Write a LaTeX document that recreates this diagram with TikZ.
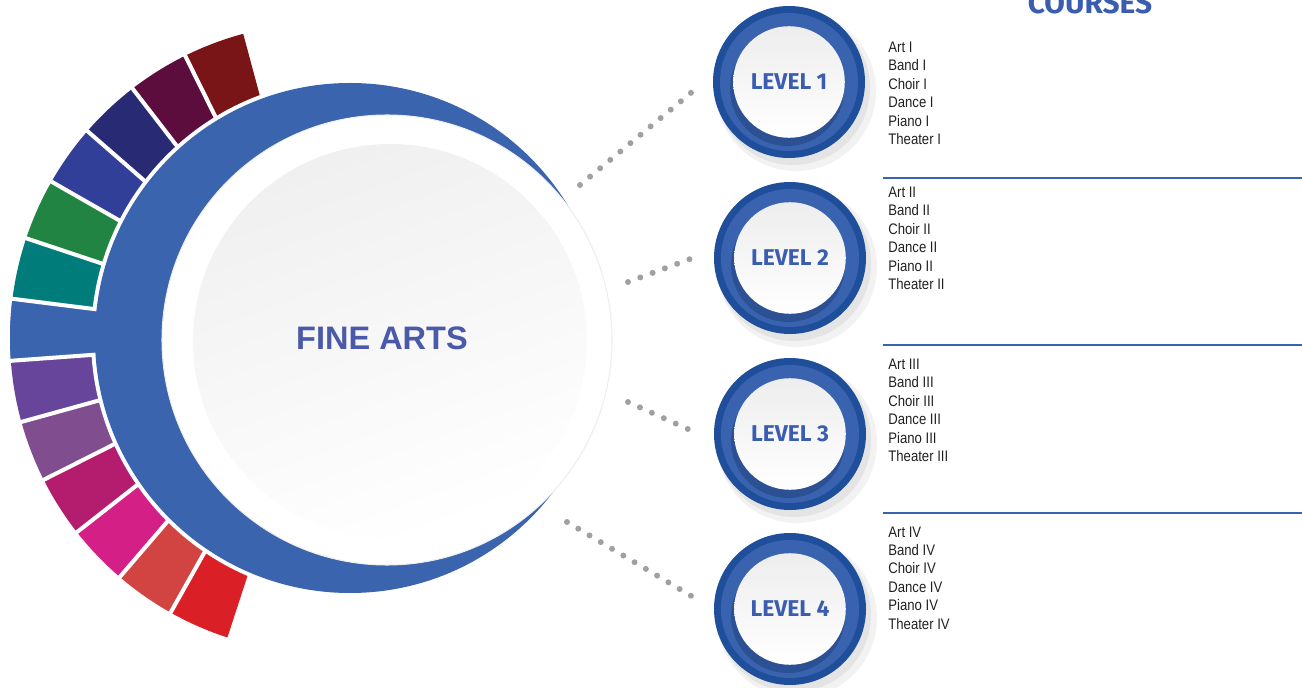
\documentclass[tikz,border=0pt]{standalone}
\usepackage{fontspec}
\setmainfont{Liberation Sans}
\newfontfamily\levelfont{Fira Sans}
\newfontfamily\coursefont[FakeStretch=0.86]{Liberation Sans}
\usepackage{tikz}
\definecolor{ringblue}{HTML}{3A64AE}
\definecolor{lvdark}{HTML}{1F4E9B}
\definecolor{lvlight}{HTML}{3A63AF}
\definecolor{finetext}{HTML}{4A5AA8}
\definecolor{lvtext}{HTML}{3A5DB0}
\definecolor{coursetext}{HTML}{231F20}
\definecolor{ruleblue}{HTML}{3A63B0}
\definecolor{dotgray}{HTML}{A0A0A2}
\definecolor{segdred}{HTML}{7A1517}
\definecolor{segplum}{HTML}{5C0D3D}
\definecolor{segnavy}{HTML}{282A74}
\definecolor{segindigo}{HTML}{323F99}
\definecolor{seggreen}{HTML}{228442}
\definecolor{segteal}{HTML}{007C7A}
\definecolor{segpurple}{HTML}{67459A}
\definecolor{segviolet}{HTML}{804D8F}
\definecolor{segmagenta}{HTML}{B41C6E}
\definecolor{segpink}{HTML}{D41F87}
\definecolor{segcoral}{HTML}{D24441}
\definecolor{segred}{HTML}{DA1F26}
\tikzstyle{segsep}=[white,line width=2.3pt]
\tikzstyle{artstitle}=[font=\bfseries\fontsize{18.5}{20}\selectfont,text=finetext]
\tikzstyle{levelnode}=[circle,minimum size=63.5pt,inner sep=0pt,top color=black!7,bottom color=white,font=\levelfont\bfseries\fontsize{13}{14}\selectfont,text=lvtext]
\tikzstyle{course}=[anchor=base west,inner sep=0pt,font=\coursefont\fontsize{8.7}{10}\selectfont,text=coursetext]
\tikzstyle{headtext}=[anchor=base,inner sep=0pt,font=\levelfont\bfseries\fontsize{17}{18}\selectfont,text=lvtext]
\tikzstyle{rulerline}=[draw=ruleblue,line width=1.1pt]
\tikzstyle{dotline}=[draw=dotgray,line width=3.4pt,line cap=round,dash pattern=on 0pt off 7.46pt]

\begin{document}
\begin{tikzpicture}[x=0.02cm,y=0.02cm]
    \useasboundingbox (0,0) rectangle (1302,687);
    \clip (0,0) rectangle (1302,687);
    \coordinate (fan) at (325,349);
    \coordinate (ring) at (350,349);
    % coloured segments round the ring
    \foreach \col [count=\k from 0] in {segdred,segplum,segnavy,segindigo,seggreen,segteal,ringblue,segpurple,segviolet,segmagenta,segpink,segcoral,segred}{
        \pgfmathsetmacro\aone{105.05+11.3*\k}
        \pgfmathsetmacro\atwo{\aone+11.3}
        \fill[\col] (fan) -- ++(\aone:315) arc[start angle=\aone,end angle=\atwo,radius=315] -- cycle;
    }
    \fill[white] (ring) circle[radius=259];
    \fill[ringblue] (fan) -- ++(172.85:315) arc[start angle=172.85,end angle=184.15,radius=315] -- cycle;
    \foreach \k in {1,...,12}
        \draw[segsep] (fan) -- ++({105.05+11.3*\k}:330);
    \fill[ringblue] (ring) circle[radius=255];
    % main circle
    \fill[white,draw=black!7,line width=0.6pt] (387,347) circle[radius=225];
    \shade[top color=black!6,bottom color=white,shading angle=20] (390,346) circle[radius=197];
    \node[artstitle] (fine) at (382,349) {FINE ARTS};
    % levels
    \foreach \pos/\name in {{(789,605)/1},{(790,429)/2},{(790,253)/3},{(790,78)/4}}{
        \fill[black,opacity=0.05,shift={(7,-9)}] \pos circle[radius=80];
        \fill[black,opacity=0.06,shift={(4,-6)}] \pos circle[radius=77];
        \fill[lvdark] \pos circle[radius=76];
        \fill[lvlight] \pos circle[radius=69];
        \fill[lvdark!70!black,opacity=0.4,shift={(-2,-7)}] \pos circle[radius=57];
        \node[levelnode] (lv\name) at \pos {LEVEL \name};
    }
    \coordinate (d1a) at (580,502); \coordinate (d1b) at (692,595);
    \coordinate (d2a) at (628,405); \coordinate (d2b) at (690,428);
    \coordinate (d3a) at (628,285); \coordinate (d3b) at (690,257);
    \coordinate (d4a) at (567,165); \coordinate (d4b) at (693,90);
    \foreach \n in {1,2,3,4}
        \draw[dotline] (d\n a) -- (d\n b);
    % course lists
    \node[headtext] (courses) at (1090,673) {COURSES};
    \foreach \y in {509,342,174}
        \draw[rulerline] (883,\y) -- (1302,\y);
    \foreach \lvl/\rom/\ybase in {1/I/634.5,2/II/489.5,3/III/317.5,4/IV/150}
        \foreach \course [count=\k] in {Art,Band,Choir,Dance,Piano,Theater}
            \node[course] (crs\lvl\k) at (888,{\ybase-18.4*(\k-1)}) {\course\ \rom};
\end{tikzpicture}
\end{document}
